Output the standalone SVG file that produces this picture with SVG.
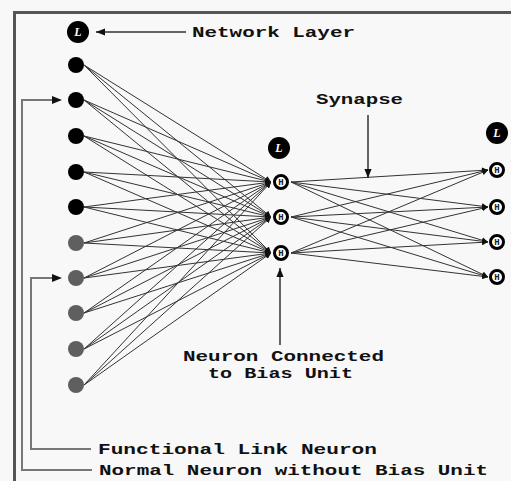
<svg xmlns="http://www.w3.org/2000/svg" width="511" height="481" viewBox="0 0 511 481">
<defs>
<marker id="ah" viewBox="0 0 10 10" refX="10" refY="5" markerWidth="6" markerHeight="6" markerUnits="userSpaceOnUse" orient="auto"><path d="M0,0 L10,5 L0,10 z" fill="#111"/></marker>
<marker id="big" viewBox="0 0 10 10" refX="10" refY="5" markerWidth="9" markerHeight="9" markerUnits="userSpaceOnUse" orient="auto"><path d="M0,1 L10,5 L0,9 z" fill="#111"/></marker>
<style>
.lbl{font-family:"Liberation Mono",monospace;font-weight:bold;font-size:15px;fill:#111}
.e{stroke:#333;stroke-width:1;fill:none;marker-end:url(#ah)}
.lead{stroke:#777;stroke-width:2;fill:none}
.blk{fill:#000}
.gry{fill:#5f5f5f}
.lnode{fill:#000}
.ltxt{font-family:"Liberation Serif",serif;font-style:italic;font-weight:bold;font-size:12px;fill:#fff;text-anchor:middle}
.hn{fill:#fff;stroke:#000;stroke-width:3}
.htxt{font-family:"Liberation Mono",monospace;font-weight:bold;font-size:9px;fill:#222;text-anchor:middle}
</style>
</defs>
<rect x="0" y="0" width="511" height="481" fill="#f8f8f8"/>
<path d="M14.5,481 V12.5 H511" stroke="#555" stroke-width="3" fill="none"/>

<g id="connectors">
<g id="input-hidden">
<path class="e" d="M84,65 L271,182"/><path class="e" d="M84,65 L271,217"/><path class="e" d="M84,65 L271,253"/>
<path class="e" d="M84,100 L271,182"/><path class="e" d="M84,100 L271,217"/><path class="e" d="M84,100 L271,253"/>
<path class="e" d="M84,136 L271,182"/><path class="e" d="M84,136 L271,217"/><path class="e" d="M84,136 L271,253"/>
<path class="e" d="M84,172 L271,182"/><path class="e" d="M84,172 L271,217"/><path class="e" d="M84,172 L271,253"/>
<path class="e" d="M84,207 L271,182"/><path class="e" d="M84,207 L271,217"/><path class="e" d="M84,207 L271,253"/>
<path class="e" d="M84,243 L271,182"/><path class="e" d="M84,243 L271,217"/><path class="e" d="M84,243 L271,253"/>
<path class="e" d="M84,278 L271,182"/><path class="e" d="M84,278 L271,217"/><path class="e" d="M84,278 L271,253"/>
<path class="e" d="M84,313 L271,182"/><path class="e" d="M84,313 L271,217"/><path class="e" d="M84,313 L271,253"/>
<path class="e" d="M84,349 L271,182"/><path class="e" d="M84,349 L271,217"/><path class="e" d="M84,349 L271,253"/>
<path class="e" d="M84,385 L271,182"/><path class="e" d="M84,385 L271,217"/><path class="e" d="M84,385 L271,253"/>
</g>
<g id="hidden-output">
<path class="e" d="M291,182 L488,170"/><path class="e" d="M291,182 L488,207"/><path class="e" d="M291,182 L488,242"/><path class="e" d="M291,182 L488,277"/>
<path class="e" d="M291,217 L488,170"/><path class="e" d="M291,217 L488,207"/><path class="e" d="M291,217 L488,242"/><path class="e" d="M291,217 L488,277"/>
<path class="e" d="M291,253 L488,170"/><path class="e" d="M291,253 L488,207"/><path class="e" d="M291,253 L488,242"/><path class="e" d="M291,253 L488,277"/>
</g>
<g id="callouts">
<path d="M186,32 L96,32" stroke="#333" stroke-width="1.5" marker-end="url(#big)"/>
<path d="M368,115 L368,178" stroke="#333" stroke-width="1.5" marker-end="url(#big)"/>
<path d="M280,345 L280,268" stroke="#333" stroke-width="1.5" marker-end="url(#big)"/>
<path class="lead" d="M92,470 H22 V100 H58"/>
<path d="M52,96 L62,100 L52,104 z" fill="#111"/>
<path class="lead" d="M91,449 H31 V278 H58"/>
<path d="M52,274 L62,278 L52,282 z" fill="#111"/>
</g>
</g>

<g id="layer-L1"><circle class="lnode" cx="78" cy="32" r="11"/><text class="ltxt" x="78" y="36">L</text></g>
<g id="layer-L2"><circle class="lnode" cx="279" cy="148" r="11"/><text class="ltxt" x="279" y="152">L</text></g>
<g id="layer-L3"><circle class="lnode" cx="497" cy="133" r="11"/><text class="ltxt" x="497" y="137">L</text></g>

<g id="in1"><circle class="blk" cx="76" cy="65" r="8"/></g>
<g id="in2"><circle class="blk" cx="76" cy="100" r="8"/></g>
<g id="in3"><circle class="blk" cx="76" cy="136" r="8"/></g>
<g id="in4"><circle class="blk" cx="76" cy="172" r="8"/></g>
<g id="in5"><circle class="blk" cx="76" cy="207" r="8"/></g>
<g id="in6"><circle class="gry" cx="76" cy="243" r="8"/></g>
<g id="in7"><circle class="gry" cx="76" cy="278" r="8"/></g>
<g id="in8"><circle class="gry" cx="76" cy="313" r="8"/></g>
<g id="in9"><circle class="gry" cx="76" cy="349" r="8"/></g>
<g id="in10"><circle class="gry" cx="76" cy="385" r="8"/></g>

<g id="h1"><circle class="hn" cx="281" cy="182" r="6.5"/><text class="htxt" x="281" y="185">H</text></g>
<g id="h2"><circle class="hn" cx="281" cy="217" r="6.5"/><text class="htxt" x="281" y="220">H</text></g>
<g id="h3"><circle class="hn" cx="281" cy="253" r="6.5"/><text class="htxt" x="281" y="256">H</text></g>

<g id="o1"><circle class="hn" cx="497" cy="170" r="6.5"/><text class="htxt" x="497" y="173">H</text></g>
<g id="o2"><circle class="hn" cx="497" cy="207" r="6.5"/><text class="htxt" x="497" y="210">H</text></g>
<g id="o3"><circle class="hn" cx="497" cy="242" r="6.5"/><text class="htxt" x="497" y="245">H</text></g>
<g id="o4"><circle class="hn" cx="497" cy="277" r="6.5"/><text class="htxt" x="497" y="280">H</text></g>

<g id="labels">
<text class="lbl" x="192" y="37" textLength="163" lengthAdjust="spacingAndGlyphs">Network Layer</text>
<text class="lbl" x="316" y="104" textLength="87" lengthAdjust="spacingAndGlyphs">Synapse</text>
<text class="lbl" x="183" y="361" textLength="201" lengthAdjust="spacingAndGlyphs">Neuron Connected</text>
<text class="lbl" x="208" y="378" textLength="145" lengthAdjust="spacingAndGlyphs">to Bias Unit</text>
<text class="lbl" x="98" y="454" textLength="279" lengthAdjust="spacingAndGlyphs">Functional Link Neuron</text>
<text class="lbl" x="99" y="475" textLength="389" lengthAdjust="spacingAndGlyphs">Normal Neuron without Bias Unit</text>
</g>
</svg>
